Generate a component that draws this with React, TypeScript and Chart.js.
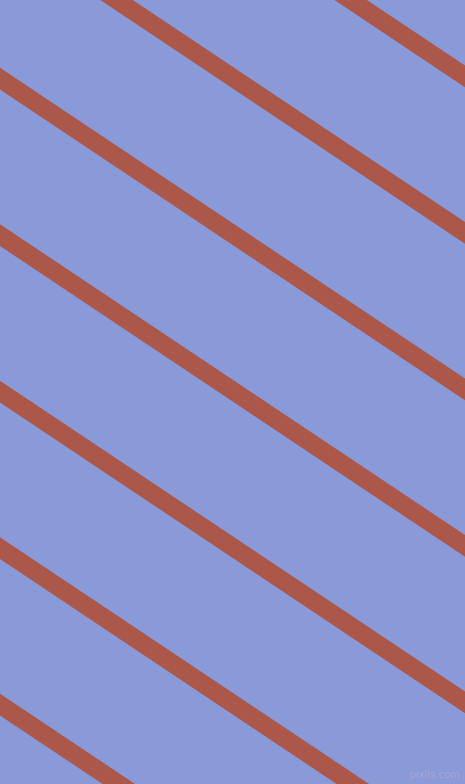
import { useEffect, useRef } from "react";
import { Chart, ChartConfiguration, registerables } from "chart.js";

Chart.register(...registerables);

const WIDTH = 465;
const HEIGHT = 784;

// x just past the left and right edges, so the stripe ends are off-canvas
const startX = -30;
const endX = 495;
// y of each stripe's centre line at startX and endX
const startY = [-254.5, -98, 58.5, 215, 371.5, 528, 684.5];
const endY = [96.5, 253, 409.5, 566, 722.5, 879, 1035.5];

const BG = "#8a99d8";
const STRIPE = "#ab5749";

const StripesChart = () => {
  const canvasRef = useRef<HTMLCanvasElement | null>(null);
  const chartRef = useRef<Chart<"scatter"> | null>(null);

  useEffect(() => {
    if (!canvasRef.current) return;
    document.body.style.margin = "0";

    const datasets = startY.map((y0, i) => ({
      label: `stripe ${i + 1}`,
      data: [
        { x: startX, y: y0 },
        { x: endX, y: endY[i] },
      ],
      showLine: true,
      borderColor: STRIPE,
      backgroundColor: STRIPE,
      borderWidth: 18,
      borderCapStyle: "butt" as const,
      pointRadius: 0,
      pointHoverRadius: 0,
      fill: false,
      clip: false as const,
    }));

    const config: ChartConfiguration<"scatter"> = {
      type: "scatter",
      data: { datasets },
      options: {
        animation: false,
        responsive: true,
        maintainAspectRatio: false,
        layout: { padding: 0 },
        events: [],
        scales: {
          x: { type: "linear", min: 0, max: WIDTH, display: false },
          y: { type: "linear", min: 0, max: HEIGHT, reverse: true, display: false },
        },
        plugins: {
          legend: { display: false },
          tooltip: { enabled: false },
        },
      },
    };

    chartRef.current = new Chart(canvasRef.current, config);

    return () => {
      chartRef.current?.destroy();
    };
  }, []);

  return (
    <div
      style={{
        position: "absolute",
        left: 0,
        top: 0,
        width: WIDTH,
        height: HEIGHT,
        background: BG,
        overflow: "hidden",
      }}
    >
      <canvas ref={canvasRef} />
      <span
        style={{
          position: "absolute",
          right: 5,
          bottom: 4,
          fontFamily: "DejaVu Sans, sans-serif",
          fontSize: 10,
          color: "#a9a6d4",
          lineHeight: 1,
        }}
      >
        pixlis.com
      </span>
    </div>
  );
};

export default function App() {
  return <StripesChart />;
}
